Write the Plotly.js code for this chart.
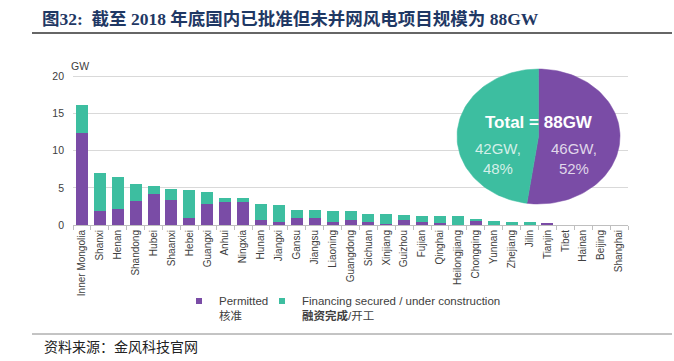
<!DOCTYPE html>
<html><head><meta charset="utf-8">
<script src="https://cdn.plot.ly/plotly-3.0.1.min.js"></script>
<style>html,body{margin:0;padding:0;background:#fff}#chart{width:674px;height:361px}</style>
</head><body><div id="chart"></div>
<script>
const categories = ['Inner Mongolia','Shanxi','Henan','Shandong','Hubei','Shaanxi','Hebei','Guangxi','Anhui','Ningxia','Hunan','Jiangxi','Gansu','Jiangsu','Liaoning','Guangdong','Sichuan','Xinjiang','Guizhou','Fujian','Qinghai','Heilongjiang','Chongqing','Yunnan','Zhejiang','Jilin','Tianjin','Tibet','Hainan','Beijing','Shanghai'];
const permitted = [12.4,1.95,2.15,3.25,4.15,3.3,0.95,2.85,3.1,3.15,0.7,0.45,0.9,1.0,0.35,0.65,0.35,0.2,0.65,0.35,0.3,0.05,0.55,0,0,0,0.3,0,0,0,0];
const financing = [3.7,5.0,4.3,2.25,1.1,1.6,3.75,1.6,0.5,0.45,2.15,2.3,1.15,1.05,1.6,1.3,1.15,1.3,0.7,0.85,0.9,1.15,0.25,0.55,0.4,0.4,0,0,0,0,0];
const seriesNames = ['Permitted<br>核准', 'Financing secured / under construction<br><b>融资完成</b>/开工'];
const pieValues = [46, 42];          // purple (permitted), teal (financing)
const pieTexts = ['46GW,<br>52%', '42GW,<br>48%'];
const pieTotal = 'Total = 88GW';
const yTicks = [0,5,10,15,20];

const PURPLE = '#7a4ca6', TEAL = '#3dbea0';
const F = 'Liberation Sans, Arial, Noto Sans CJK SC, sans-serif';

// plot area geometry (px)
const L = 73, R = 628, T = 60, B = 225;
const W = R - L, H = B - T;
const yTop = 20 * H / (B - 76.3);
const px = x => (x - L) / W, py = y => (B - y) / H;

// pie ellipse in overlay axes: unit circle -> ellipse box
const cx = 538.5, cy = 136.5, rx = 81.5, ry = 67.5;
const x2range = [(L - cx) / rx, (R - cx) / rx];
const y2range = [(cy - B) / ry, (cy - T) / ry];

function slice(startFrac, frac) {
  const xs = [0], ys = [0];
  const n = 80;
  for (let i = 0; i <= n; i++) {
    const a = Math.PI / 2 - 2 * Math.PI * (startFrac + frac * i / n);
    xs.push(Math.cos(a)); ys.push(Math.sin(a));
  }
  xs.push(0); ys.push(0);
  return {xs, ys};
}
const tot = pieValues[0] + pieValues[1];
const s1 = slice(0, pieValues[0] / tot);
const s2 = slice(pieValues[0] / tot, pieValues[1] / tot);

const traces = [
  {type:'bar', x:categories, y:permitted, marker:{color:PURPLE}, showlegend:false, hoverinfo:'skip'},
  {type:'bar', x:categories, y:financing, marker:{color:TEAL}, showlegend:false, hoverinfo:'skip'},
  {type:'scatter', x:[null], y:[null], mode:'markers', name:seriesNames[0], legend:'legend', marker:{symbol:'square', size:6, color:PURPLE}},
  {type:'scatter', x:[null], y:[null], mode:'markers', name:seriesNames[1], legend:'legend2', marker:{symbol:'square', size:6, color:TEAL}},
  {type:'scatter', x:s1.xs, y:s1.ys, xaxis:'x2', yaxis:'y2', mode:'lines', fill:'toself', fillcolor:PURPLE, line:{width:0.5, color:PURPLE}, showlegend:false, hoverinfo:'skip'},
  {type:'scatter', x:s2.xs, y:s2.ys, xaxis:'x2', yaxis:'y2', mode:'lines', fill:'toself', fillcolor:TEAL, line:{width:0.5, color:TEAL}, showlegend:false, hoverinfo:'skip'}
];

const legBase = {orientation:'h', xanchor:'left', yanchor:'top', valign:'top', traceorder:'normal',
  font:{size:11.5, color:'#404040', family:F}, bgcolor:'rgba(0,0,0,0)', itemwidth:30};

const layout = {
  width:674, height:361,
  margin:{l:L, r:674-R, t:T, b:361-B, pad:0},
  paper_bgcolor:'#fff', plot_bgcolor:'#fff',
  barmode:'stack', bargap:0.33,
  font:{family:F, color:'#404040', size:10},
  title:{text:'<b>图32:  截至 2018 年底国内已批准但未并网风电项目规模为 88GW</b>', x:42/674, xanchor:'left', xref:'container', y:1-19/361, yanchor:'middle', yref:'container',
         font:{family:'Liberation Serif, Noto Sans CJK SC, serif', size:17.5, color:'#1f3864'}},
  xaxis:{type:'category', showline:true, linecolor:'#bfbfbf', linewidth:1, ticks:'outside', tickson:'boundaries', ticklen:4, tickcolor:'#bfbfbf',
         tickangle:-90, tickfont:{size:10, color:'#404040'}, showgrid:false, fixedrange:true},
  yaxis:{range:[0,yTop], tickvals:yTicks, showgrid:true, gridcolor:'#d9d9d9', gridwidth:1, zeroline:false, showline:false,
         ticks:'', ticklabelstandoff:8, tickfont:{size:10.5, color:'#404040'}, fixedrange:true},
  xaxis2:{overlaying:'x', anchor:'y2', range:x2range, visible:false, fixedrange:true},
  yaxis2:{overlaying:'y', anchor:'x2', range:y2range, visible:false, fixedrange:true},
  showlegend:true,
  legend:Object.assign({}, legBase, {x:px(179), y:py(287)}),
  legend2:Object.assign({}, legBase, {x:px(262), y:py(287)}),
  annotations:[
    {text:'GW', xref:'paper', yref:'paper', x:px(69), y:py(58), showarrow:false, font:{size:10.5, color:'#404040'}},
    {text:'<b>'+pieTotal+'</b>', xref:'x2', yref:'y2', x:0, y:(cy-122)/ry, showarrow:false, font:{size:17, color:'#ffffff', family:F}},
    {text:pieTexts[1], xref:'x2', yref:'y2', x:(498-cx)/rx, y:(cy-158)/ry, showarrow:false, font:{size:15, color:'rgba(255,255,255,0.78)', family:F}, align:'center'},
    {text:pieTexts[0], xref:'x2', yref:'y2', x:(574-cx)/rx, y:(cy-158)/ry, showarrow:false, font:{size:15, color:'rgba(255,255,255,0.78)', family:F}, align:'center'},
    {text:'资料来源：金风科技官网', xref:'paper', yref:'paper', x:px(42), y:py(347), xanchor:'left', yanchor:'middle', showarrow:false,
     font:{size:14, color:'#222', family:'Liberation Serif, Noto Sans CJK SC, serif'}}
  ],
  shapes:[
    {type:'line', xref:'paper', yref:'paper', x0:px(32), x1:px(672), y0:py(33), y1:py(33), line:{color:'#333', width:1.5}},
    {type:'line', xref:'paper', yref:'paper', x0:px(32), x1:px(672), y0:py(334), y1:py(334), line:{color:'#888', width:1}}
  ]
};

Plotly.newPlot('chart', traces, layout, {displayModeBar:false, staticPlot:true});
</script></body></html>
